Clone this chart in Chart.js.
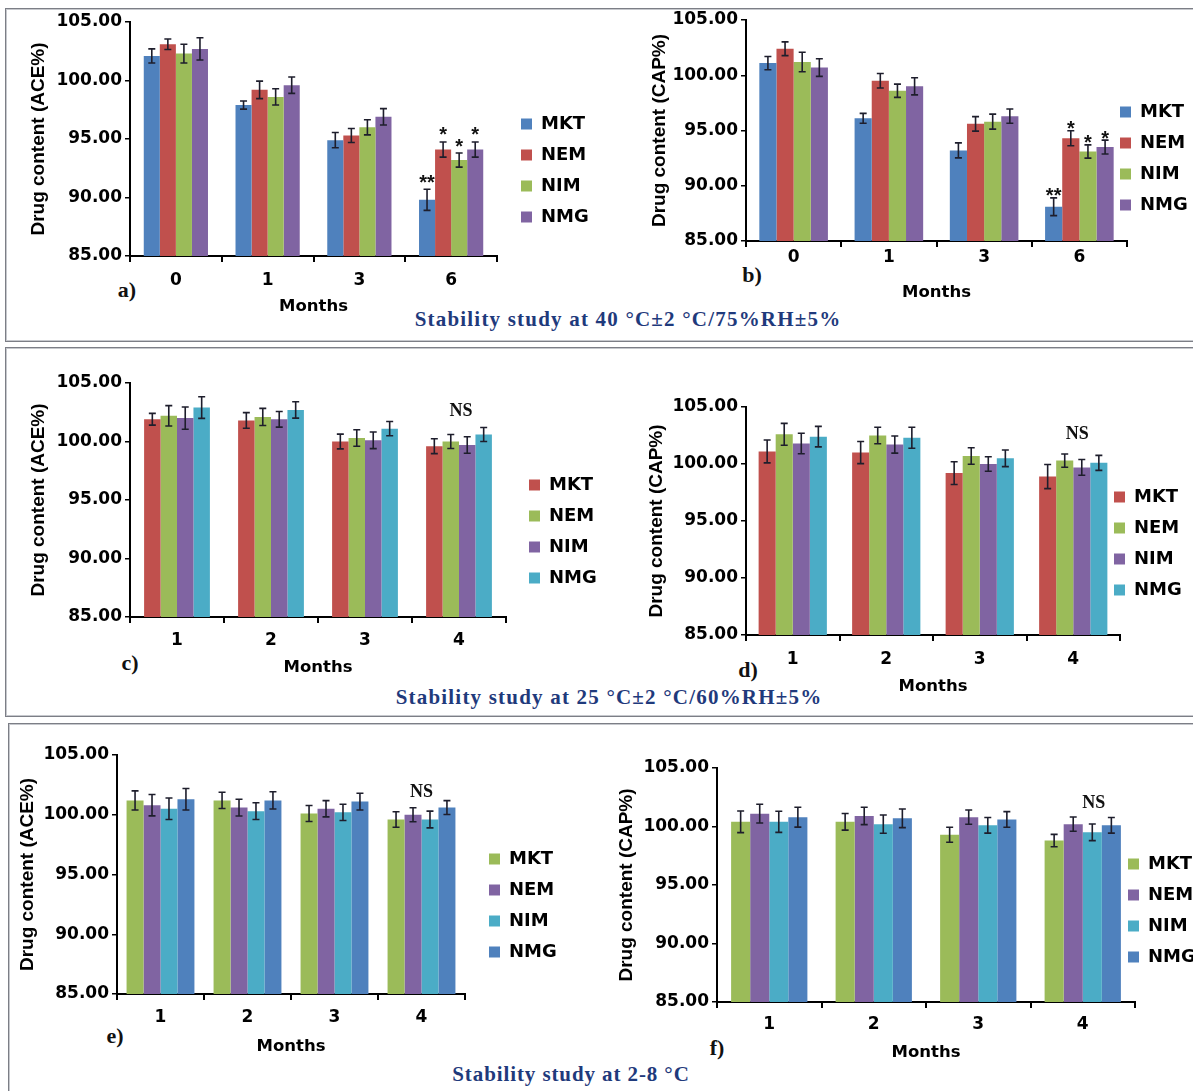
<!DOCTYPE html>
<html>
<head>
<meta charset="utf-8">
<script src="https://cdn.jsdelivr.net/npm/chart.js@4.4.1/dist/chart.umd.min.js"></script>
<style>
html,body{margin:0;padding:0;background:#fff;}
body{width:1193px;height:1091px;overflow:hidden;position:relative;}
.box{position:absolute;box-sizing:border-box;border:1px solid #7c7e86;box-shadow:inset 0 0 0 1px #c6c8cd;}
canvas{position:absolute;}
.lbl{position:absolute;font-family:"Liberation Serif","Times New Roman",serif;font-weight:bold;font-size:22px;color:#111;white-space:nowrap;transform:translate(-50%,-50%);}
.cap{position:absolute;font-family:"Liberation Serif","Times New Roman",serif;font-weight:bold;font-size:21px;letter-spacing:1.2px;color:#1f3a7c;white-space:nowrap;transform:translate(-50%,-50%);}
</style>
</head>
<body>
<div class="box" style="left:5px;top:8px;width:1210px;height:334px;"></div>
<div class="box" style="left:5px;top:347px;width:1210px;height:370px;"></div>
<div class="box" style="left:8px;top:723px;width:1210px;height:400px;"></div>

<div class="lbl" style="left:127px;top:290px;">a)</div>
<div class="lbl" style="left:752px;top:275px;">b)</div>
<div class="lbl" style="left:130px;top:663px;">c)</div>
<div class="lbl" style="left:748px;top:670px;">d)</div>
<div class="lbl" style="left:115px;top:1036px;">e)</div>
<div class="lbl" style="left:717px;top:1048px;">f)</div>

<div class="cap" style="left:628px;top:319px;">Stability study at 40 °C±2 °C/75%RH±5%</div>
<div class="cap" style="left:609px;top:697px;">Stability study at 25 °C±2 °C/60%RH±5%</div>
<div class="cap" style="left:571px;top:1074px;letter-spacing:0.9px;">Stability study at 2-8 °C</div>

<script>
// ---------------- DATA ----------------
const seriesNames = ['MKT', 'NEM', 'NIM', 'NMG'];
const monthsAB = ['0', '1', '3', '6'];
const monthsCF = ['1', '2', '3', '4'];
const yTickValues = [85, 90, 95, 100, 105];

// a) ACE%, 40 °C
const aMKT = [102.1, 97.9, 94.9, 89.8];
const aNEM = [103.1, 99.2, 95.3, 94.1];
const aNIM = [102.3, 98.6, 96.0, 93.2];
const aNMG = [102.7, 99.6, 96.9, 94.1];
const aMKTsd = [0.6, 0.35, 0.65, 0.9];
const aNEMsd = [0.45, 0.75, 0.6, 0.65];
const aNIMsd = [0.8, 0.7, 0.65, 0.6];
const aNMGsd = [0.95, 0.7, 0.7, 0.65];
const aStars = ['**', '*', '*', '*'];

// b) CAP%, 40 °C
const bMKT = [101.1, 96.1, 93.2, 88.1];
const bNEM = [102.4, 99.5, 95.6, 94.3];
const bNIM = [101.2, 98.6, 95.8, 93.1];
const bNMG = [100.7, 99.0, 96.3, 93.5];
const bMKTsd = [0.6, 0.45, 0.68, 0.8];
const bNEMsd = [0.62, 0.66, 0.66, 0.68];
const bNIMsd = [0.88, 0.6, 0.68, 0.6];
const bNMGsd = [0.8, 0.78, 0.65, 0.63];
const bStars = ['**', '*', '*', '*'];

// c) ACE%, 25 °C
const cMKT = [101.9, 101.8, 100.0, 99.6];
const cNEM = [102.2, 102.1, 100.3, 100.0];
const cNIM = [102.0, 101.9, 100.1, 99.7];
const cNMG = [102.9, 102.7, 101.1, 100.6];
const cMKTsd = [0.5, 0.67, 0.63, 0.64];
const cNEMsd = [0.87, 0.73, 0.71, 0.6];
const cNIMsd = [0.95, 0.67, 0.71, 0.7];
const cNMGsd = [0.92, 0.7, 0.61, 0.6];

// d) CAP%, 25 °C
const dMKT = [101.1, 101.0, 99.2, 98.9];
const dNEM = [102.6, 102.5, 100.7, 100.3];
const dNIM = [101.8, 101.7, 100.0, 99.7];
const dNMG = [102.4, 102.3, 100.5, 100.1];
const dMKTsd = [1.0, 0.97, 1.0, 1.06];
const dNEMsd = [0.96, 0.72, 0.72, 0.58];
const dNIMsd = [0.9, 0.75, 0.63, 0.69];
const dNMGsd = [0.9, 0.92, 0.73, 0.66];

// e) ACE%, 2-8 °C
const eMKT = [101.2, 101.2, 100.1, 99.6];
const eNEM = [100.8, 100.6, 100.5, 100.0];
const eNIM = [100.5, 100.3, 100.2, 99.6];
const eNMG = [101.3, 101.2, 101.1, 100.6];
const eMKTsd = [0.8, 0.68, 0.67, 0.65];
const eNEMsd = [0.89, 0.7, 0.68, 0.58];
const eNIMsd = [0.9, 0.7, 0.68, 0.7];
const eNMGsd = [0.9, 0.72, 0.7, 0.58];

// f) CAP%, 2-8 °C
const fMKT = [100.4, 100.4, 99.3, 98.8];
const fNEM = [101.1, 100.9, 100.8, 100.2];
const fNIM = [100.4, 100.2, 100.1, 99.5];
const fNMG = [100.8, 100.7, 100.6, 100.1];
const fMKTsd = [0.92, 0.71, 0.64, 0.53];
const fNEMsd = [0.8, 0.74, 0.61, 0.61];
const fNIMsd = [0.9, 0.78, 0.67, 0.71];
const fNMGsd = [0.85, 0.8, 0.67, 0.67];

// ---------------- STYLE / LAYOUT ----------------
const BLUE = '#4F81BD', RED = '#C0504D', GREEN = '#9BBB59', PURPLE = '#8064A2', CYAN = '#4BACC6';
const palAB = [BLUE, RED, GREEN, PURPLE];
const palCD = [RED, GREEN, PURPLE, CYAN];
const palEF = [GREEN, PURPLE, CYAN, BLUE];

const TICK_FONT = {family: '"DejaVu Sans", sans-serif', size: 17, weight: 'bold', lineHeight: 1.2};
const LEG_FONT = {family: '"DejaVu Sans", sans-serif', size: 18, weight: 'bold', lineHeight: 1.2};
const MON_FONT = {family: '"DejaVu Sans", sans-serif', size: 16.5, weight: 'bold', lineHeight: 1.2};
const YT_FONT = {family: '"Liberation Sans", Arial, sans-serif', size: 19, weight: 'bold', lineHeight: 1.2};

// absolute page coordinates of each panel's features
const layouts = {
  a: {cx: 8,   cy: 8,   w: 592, h: 332, axL: 130, axR: 497,  yT: 22,  yB: 256,  tX: 39,  xlY: 281,  mY: 307,  lgX: 521,  lgY: 124, cat: 0.70, starGap: 12},
  b: {cx: 600, cy: 6,   w: 593, h: 334, axL: 746, axR: 1127, yT: 20,  yB: 241,  tX: 660, xlY: 258,  mY: 293,  lgX: 1120, lgY: 112, cat: 0.72, starGap: 7},
  c: {cx: 8,   cy: 369, w: 592, h: 343, axL: 130, axR: 506,  yT: 383, yB: 617,  tX: 39,  xlY: 641,  mY: 668,  lgX: 529,  lgY: 485, cat: 0.70, nsGap: 16, nsDx: 2},
  d: {cx: 600, cy: 393, w: 593, h: 319, axL: 746, axR: 1120, yT: 407, yB: 635,  tX: 657, xlY: 660,  mY: 687,  lgX: 1114, lgY: 497, cat: 0.73, nsGap: 20, nsDx: 4},
  e: {cx: 8,   cy: 741, w: 592, h: 350, axL: 117, axR: 465,  yT: 755, yB: 994,  tX: 28,  xlY: 1018, mY: 1047, lgX: 489,  lgY: 859, cat: 0.78, nsGap: 8,  nsDx: 0},
  f: {cx: 600, cy: 754, w: 593, h: 337, axL: 717, axR: 1135, yT: 768, yB: 1002, tX: 627, xlY: 1025, mY: 1053, lgX: 1128, lgY: 864, cat: 0.73, nsGap: 14, nsDx: 11}
};

// ---------------- PLUGINS ----------------
// moves the (layout-neutral) legend box to its place beside the plot
const legendPlace = {
  id: 'legendPlace',
  afterLayout(chart, args, opts) {
    const lg = chart.legend;
    if (!lg || opts.x === undefined) return;
    const pad = lg.options.labels.padding;
    const fs = lg.options.labels.font.size;
    const ih = Math.max(fs, lg.options.labels.boxHeight || fs);
    lg.left = opts.x - pad;
    lg.width = 140;
    lg.right = lg.left + lg.width;
    lg.top = opts.y - ih / 2 - pad;
    lg.height = 4 * (ih + pad) + 2 * pad + 10;
    lg.bottom = lg.top + lg.height;
  }
};

const errBars = {
  id: 'errBars',
  afterDatasetsDraw(chart, args, opts) {
    const ctx = chart.ctx;
    const ys = chart.scales.y;
    const groupTop = {};
    ctx.save();
    chart.data.datasets.forEach((ds, i) => {
      const meta = chart.getDatasetMeta(i);
      meta.data.forEach((bar, j) => {
        const v = ds.data[j], e = ds.errors[j];
        const yt = ys.getPixelForValue(v + e);
        const yb = ys.getPixelForValue(v - e);
        ctx.strokeStyle = '#1e1e2c';
        ctx.lineWidth = 1.6;
        ctx.beginPath();
        ctx.moveTo(bar.x, yt); ctx.lineTo(bar.x, yb);
        ctx.moveTo(bar.x - 3.5, yt); ctx.lineTo(bar.x + 3.5, yt);
        ctx.moveTo(bar.x - 3.5, yb); ctx.lineTo(bar.x + 3.5, yb);
        ctx.stroke();
        groupTop[j] = Math.min(groupTop[j] === undefined ? Infinity : groupTop[j], yt);
        if (ds.stars && j === ds.data.length - 1) {
          ctx.fillStyle = '#111';
          ctx.font = 'bold 20px "Liberation Sans", Arial, sans-serif';
          ctx.textAlign = 'center';
          ctx.textBaseline = 'alphabetic';
          const cy = yt - opts.starGap;
          ctx.fillText(ds.stars, bar.x, cy + 11.5);
        }
      });
    });
    if (opts.nsGap !== undefined) {
      const idx = chart.data.labels.length - 1;
      const x = chart.scales.x.getPixelForValue(idx) + (opts.nsDx || 0);
      ctx.fillStyle = '#111';
      ctx.font = 'bold 18px "Liberation Serif", "Times New Roman", serif';
      ctx.textAlign = 'center';
      ctx.textBaseline = 'middle';
      ctx.fillText('NS', x, groupTop[idx] - opts.nsGap);
    }
    ctx.restore();
  }
};

// ---------------- BUILD ----------------
function makeChart(key, labels, values, errors, palette, yTitle, stars) {
  const L = layouts[key];
  const cv = document.createElement('canvas');
  cv.width = L.w; cv.height = L.h;
  cv.style.left = L.cx + 'px'; cv.style.top = L.cy + 'px';
  cv.style.width = L.w + 'px'; cv.style.height = L.h + 'px';
  document.body.appendChild(cv);

  const tHalf = YT_FONT.size * YT_FONT.lineHeight / 2;
  const mHalf = MON_FONT.size * MON_FONT.lineHeight / 2;
  const lHalf = TICK_FONT.size * TICK_FONT.lineHeight / 2;
  const xTL = 6;
  const xH = L.mY + mHalf - L.yB;
  const yW = L.axL - (L.tX - tHalf);
  const pl = L.tX - tHalf - L.cx;
  const pt = L.yT - L.cy;
  const pr = L.cx + L.w - 1 - L.axR;
  const pb = L.cy + L.h - L.yB - xH;
  const xPad = L.xlY - L.yB - xTL - lHalf;

  const datasets = seriesNames.map((name, i) => ({
    label: name,
    data: values[i],
    errors: errors[i],
    stars: stars ? stars[i] : null,
    backgroundColor: palette[i],
    borderWidth: 0,
    categoryPercentage: L.cat,
    barPercentage: 1.0
  }));

  return new Chart(cv, {
    type: 'bar',
    data: {labels: labels, datasets: datasets},
    plugins: [legendPlace, errBars],
    options: {
      responsive: false,
      animation: false,
      devicePixelRatio: 1,
      layout: {padding: {left: pl, right: pr, top: pt, bottom: pb}},
      plugins: {
        tooltip: {enabled: false},
        legend: {
          display: true,
          position: 'right',
          align: 'start',
          maxWidth: 1,
          labels: {
            boxWidth: 11, boxHeight: 11, padding: 13,
            color: '#000', font: LEG_FONT
          }
        },
        legendPlace: {x: L.lgX - L.cx, y: L.lgY - L.cy},
        errBars: {starGap: L.starGap, nsGap: L.nsGap, nsDx: L.nsDx}
      },
      scales: {
        x: {
          type: 'category',
          offset: true,
          afterFit: (s) => { s.height = xH; },
          grid: {display: true, offset: true, drawOnChartArea: false, drawTicks: true, tickLength: xTL, color: '#000', lineWidth: 2},
          border: {display: true, color: '#000', width: 2},
          ticks: {color: '#000', font: TICK_FONT, padding: xPad, maxRotation: 0},
          title: {display: true, text: 'Months', color: '#000', font: MON_FONT, padding: 0}
        },
        y: {
          min: 85, max: 105,
          afterFit: (s) => { s.width = yW; },
          afterBuildTicks: (s) => { s.ticks = yTickValues.map(v => ({value: v})); },
          grid: {display: true, drawOnChartArea: false, drawTicks: true, tickLength: 5, color: '#000', lineWidth: 1.5},
          border: {display: true, color: '#000', width: 2},
          ticks: {color: '#000', font: TICK_FONT, padding: 3, callback: (v) => Number(v).toFixed(2)},
          title: {display: true, text: yTitle, color: '#000', font: YT_FONT, padding: 0}
        }
      }
    }
  });
}

makeChart('a', monthsAB, [aMKT, aNEM, aNIM, aNMG], [aMKTsd, aNEMsd, aNIMsd, aNMGsd], palAB, 'Drug content (ACE%)', aStars);
makeChart('b', monthsAB, [bMKT, bNEM, bNIM, bNMG], [bMKTsd, bNEMsd, bNIMsd, bNMGsd], palAB, 'Drug content (CAP%)', bStars);
makeChart('c', monthsCF, [cMKT, cNEM, cNIM, cNMG], [cMKTsd, cNEMsd, cNIMsd, cNMGsd], palCD, 'Drug content (ACE%)', null);
makeChart('d', monthsCF, [dMKT, dNEM, dNIM, dNMG], [dMKTsd, dNEMsd, dNIMsd, dNMGsd], palCD, 'Drug content (CAP%)', null);
makeChart('e', monthsCF, [eMKT, eNEM, eNIM, eNMG], [eMKTsd, eNEMsd, eNIMsd, eNMGsd], palEF, 'Drug content (ACE%)', null);
makeChart('f', monthsCF, [fMKT, fNEM, fNIM, fNMG], [fMKTsd, fNEMsd, fNIMsd, fNMGsd], palEF, 'Drug content (CAP%)', null);
</script>
</body>
</html>
